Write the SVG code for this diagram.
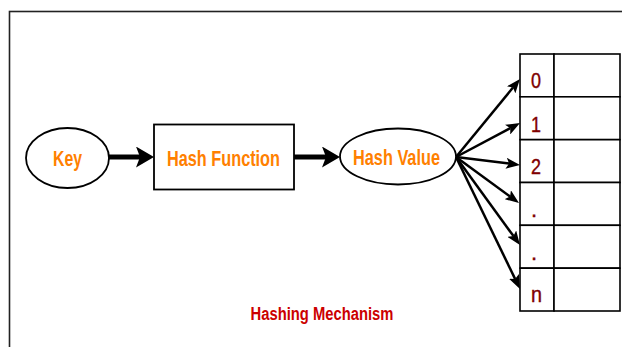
<svg xmlns="http://www.w3.org/2000/svg" width="622" height="347" viewBox="0 0 622 347">
  <style>
    .frame { fill: none; stroke: #222; stroke-width: 1.6; }
    .shape { fill: #fff; stroke: #000; stroke-width: 1.8; }
    .label { font-family: "Liberation Sans", Arial, sans-serif; font-weight: bold; font-size: 21.5px; fill: #ff8000; text-anchor: middle; }
    .title { font-family: "Liberation Sans", Arial, sans-serif; font-weight: bold; font-size: 18px; fill: #cc0000; text-anchor: middle; }
    .cell { fill: #fff; stroke: #000; stroke-width: 1.6; }
    .idx { font-family: "Liberation Sans", Arial, sans-serif; font-size: 22px; fill: #800000; stroke: #800000; stroke-width: 0.4; }
    .thick { stroke: #000; stroke-width: 5; fill: none; marker-end: url(#headBig); }
    .thin { stroke: #000; stroke-width: 2.5; fill: none; marker-end: url(#headSmall); }
  </style>
  <defs>
    <marker id="headBig" markerUnits="userSpaceOnUse" markerWidth="18" markerHeight="21" refX="4" refY="10.5" orient="auto">
      <path d="M0,0 L18,10.5 L0,21 L4,10.5 Z" fill="#000"/>
    </marker>
    <marker id="headSmall" markerUnits="userSpaceOnUse" markerWidth="14" markerHeight="11" refX="3" refY="5.5" orient="auto">
      <path d="M0,0 L14,5.5 L0,11 L3,5.5 Z" fill="#000"/>
    </marker>
  </defs>

  <!-- outer border -->
  <rect class="frame" x="9.5" y="11.5" width="640" height="360"/>

  <!-- connectors -->
  <g id="connectors">
    <line class="thick" x1="109" y1="157" x2="140" y2="157"/>
    <line class="thick" x1="294" y1="157" x2="326" y2="157"/>
    <line class="thin" x1="456" y1="157" x2="513.0" y2="87.5"/>
    <line class="thin" x1="456" y1="157" x2="510.3" y2="128.2"/>
    <line class="thin" x1="456" y1="157" x2="509.1" y2="163.6"/>
    <line class="thin" x1="456" y1="157" x2="510.1" y2="196.5"/>
    <line class="thin" x1="456" y1="157" x2="513.5" y2="236.1"/>
    <line class="thin" x1="456" y1="157" x2="515.2" y2="279.1"/>
  </g>

  <!-- nodes -->
  <g id="key">
    <ellipse class="shape" cx="67.5" cy="158" rx="41.5" ry="30"/>
    <text class="label" x="67.5" y="165.5" textLength="29" lengthAdjust="spacingAndGlyphs">Key</text>
  </g>

  <g id="hash-function">
    <rect class="shape" x="154" y="124.5" width="140" height="65"/>
    <text class="label" x="223.5" y="165.5" textLength="113" lengthAdjust="spacingAndGlyphs">Hash Function</text>
  </g>

  <g id="hash-value">
    <ellipse class="shape" cx="398" cy="156.5" rx="58" ry="28"/>
    <text class="label" x="396.5" y="164.5" textLength="87" lengthAdjust="spacingAndGlyphs">Hash Value</text>
  </g>

  <g id="table">
    <rect class="cell" x="520" y="54" width="34" height="42.8"/>
    <rect class="cell" x="554" y="54" width="66" height="42.8"/>
    <rect class="cell" x="520" y="96.8" width="34" height="42.8"/>
    <rect class="cell" x="554" y="96.8" width="66" height="42.8"/>
    <rect class="cell" x="520" y="139.7" width="34" height="42.8"/>
    <rect class="cell" x="554" y="139.7" width="66" height="42.8"/>
    <rect class="cell" x="520" y="182.5" width="34" height="42.8"/>
    <rect class="cell" x="554" y="182.5" width="66" height="42.8"/>
    <rect class="cell" x="520" y="225.3" width="34" height="42.8"/>
    <rect class="cell" x="554" y="225.3" width="66" height="42.8"/>
    <rect class="cell" x="520" y="268.2" width="34" height="42.8"/>
    <rect class="cell" x="554" y="268.2" width="66" height="42.8"/>
    <text class="idx" x="531" y="88" textLength="10" lengthAdjust="spacingAndGlyphs">0</text>
    <text class="idx" x="531" y="131.5" textLength="10" lengthAdjust="spacingAndGlyphs">1</text>
    <text class="idx" x="531" y="174" textLength="10" lengthAdjust="spacingAndGlyphs">2</text>
    <text class="idx" x="531" y="217">.</text>
    <text class="idx" x="531" y="259.5">.</text>
    <text class="idx" x="531" y="302" textLength="11" lengthAdjust="spacingAndGlyphs">n</text>
  </g>

  <g id="caption">
    <text class="title" x="322" y="320" textLength="143" lengthAdjust="spacingAndGlyphs">Hashing Mechanism</text>
  </g>
</svg>
